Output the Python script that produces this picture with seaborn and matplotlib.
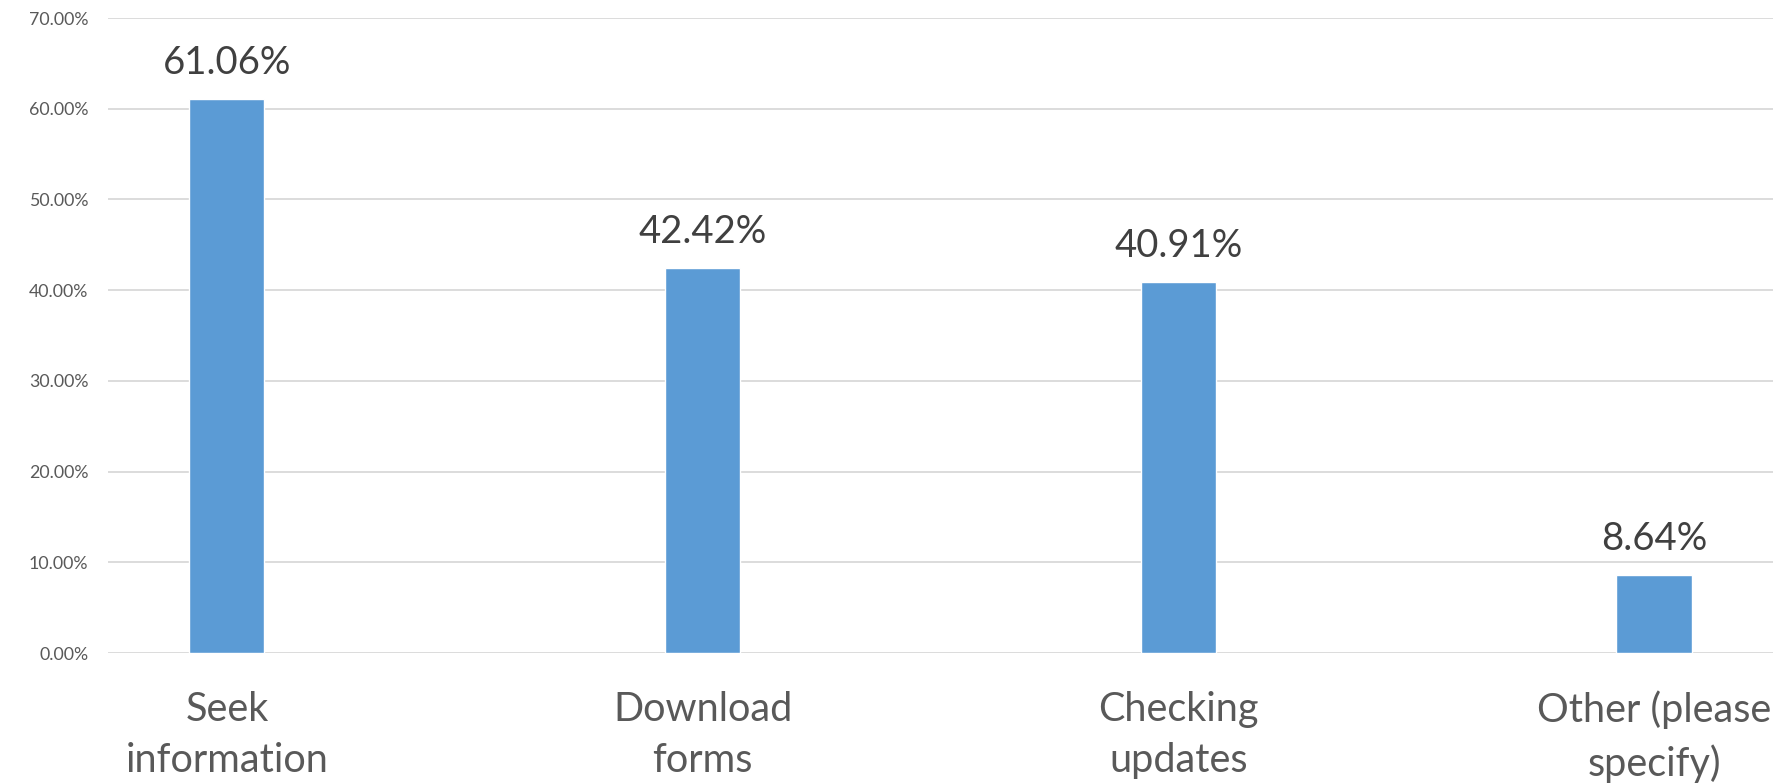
import matplotlib
matplotlib.use("Agg")
import matplotlib.pyplot as plt
import seaborn as sb
import pandas as pd

categories = ["Seek\ninformation", "Download\nforms", "Checking\nupdates", "Other (please\nspecify)"]
values = [61.06, 42.42, 40.91, 8.64]
yticks = [0, 10, 20, 30, 40, 50, 60, 70]

df = pd.DataFrame({"category": categories, "value": values})

sb.set_theme(style="white")
plt.rcParams["font.family"] = ["Lato", "DejaVu Sans"]

fig = plt.figure(figsize=(17.75, 7.84), dpi=100)
ax = fig.add_axes([0.0608, 0.167, 0.938, 0.81])

sb.barplot(data=df, x="category", y="value", color="#5B9BD5", width=0.158,
           saturation=1, ax=ax, zorder=3)

ax.set_xlim(-0.25, 3.25)
ax.set_ylim(0, 70)
ax.set_yticks(yticks)
ax.set_yticklabels([f"{t:.2f}%" for t in yticks], color="#595959", fontsize=12.8)
ax.tick_params(axis="y", length=0, pad=14)
ax.tick_params(axis="x", length=0, pad=27, labelsize=28.5, labelcolor="#595959")
for lbl in ax.get_xticklabels():
    lbl.set_linespacing(1.48)
ax.set_xlabel("")
ax.set_ylabel("")
ax.grid(axis="y", color="#D9D9D9", linewidth=1.3, zorder=0)
for s in ax.spines.values():
    s.set_visible(False)

for i, v in enumerate(values):
    ax.annotate(f"{v:.2f}%", (i, v), xytext=(0, 13), textcoords="offset points",
                ha="center", va="bottom", fontsize=27.5, color="#404040")

fig.savefig("out.png", dpi=100)
